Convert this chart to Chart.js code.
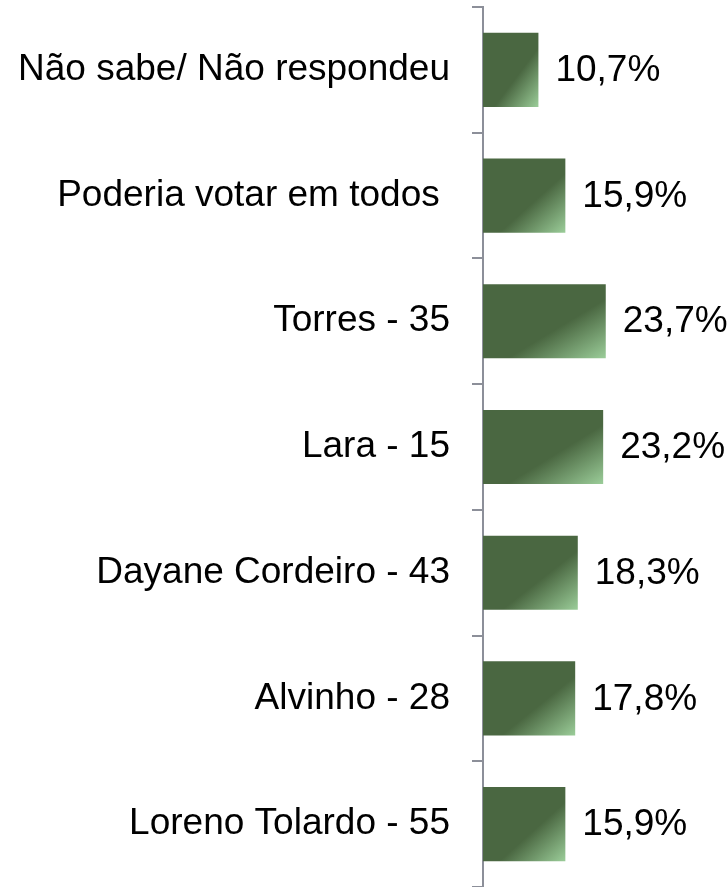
<!DOCTYPE html>
<html lang="pt">
<head>
<meta charset="utf-8">
<title>Intenção de voto</title>
<script src="https://cdn.jsdelivr.net/npm/chart.js@4/dist/chart.umd.min.js"></script>
<style>
    html, body { margin: 0; padding: 0; background: #ffffff; }
    #wrap { position: relative; width: 728px; height: 887px; }
</style>
</head>
<body>
<div id="wrap"><canvas id="voteChart"></canvas></div>
<script>
    const categories = [
        "Não sabe/ Não respondeu",
        "Poderia votar em todos ",
        "Torres - 35",
        "Lara - 15",
        "Dayane Cordeiro - 43",
        "Alvinho - 28",
        "Loreno Tolardo - 55"
    ];
    const percentages = [10.7, 15.9, 23.7, 23.2, 18.3, 17.8, 15.9];

    const axisColor = "#8c8f99";
    const darkGreen = "#4a6741";
    const lightGreen = "#9bcd99";
    const fontFamily = "'Liberation Sans', Arial, sans-serif";
    const barShare = 0.59;

    const formatPercent = (value) => value.toFixed(1).replace(".", ",") + "%";

    // diagonal gradient per bar: dark for most of it, light in the lower right corner
    const barGradient = (context) => {
        const chart = context.chart;
        const xs = chart.scales.x;
        const ys = chart.scales.y;
        if (!chart.chartArea || !xs || !ys) {
            return darkGreen;
        }
        const left = xs.getPixelForValue(0);
        const w = Math.max(1, xs.getPixelForValue(percentages[context.dataIndex]) - left);
        const h = (ys.height / categories.length) * barShare;
        const top = ys.getPixelForValue(context.dataIndex) - h / 2;
        const k = 2 * w * h / (w * w + h * h);
        const g = chart.ctx.createLinearGradient(left, top, left + k * h, top + k * w);
        g.addColorStop(0, darkGreen);
        g.addColorStop(0.6, darkGreen);
        g.addColorStop(1, lightGreen);
        return g;
    };

    const valueLabels = {
        id: "valueLabels",
        afterDatasetsDraw(chart) {
            const ctx = chart.ctx;
            ctx.save();
            ctx.font = "37px " + fontFamily;
            ctx.fillStyle = "#000000";
            ctx.textAlign = "left";
            ctx.textBaseline = "middle";
            chart.getDatasetMeta(0).data.forEach((bar, i) => {
                ctx.fillText(formatPercent(percentages[i]), bar.x + 17, bar.y + 1);
            });
            ctx.restore();
        }
    };

    new Chart(document.getElementById("voteChart"), {
        type: "bar",
        data: {
            labels: categories,
            datasets: [{
                data: percentages,
                backgroundColor: barGradient,
                borderWidth: 0,
                categoryPercentage: 1,
                barPercentage: barShare
            }]
        },
        options: {
            indexAxis: "y",
            responsive: true,
            maintainAspectRatio: false,
            animation: false,
            layout: { padding: { top: 7, right: 0, bottom: 0, left: 0 } },
            plugins: {
                legend: { display: false },
                tooltip: { enabled: false }
            },
            scales: {
                x: {
                    display: false,
                    min: 0,
                    max: 47.3
                },
                y: {
                    afterFit: (scale) => {
                        scale.width = 483;
                        scale.paddingTop = 0;
                        scale.paddingBottom = 0;
                    },
                    border: { display: true, color: axisColor, width: 2 },
                    grid: {
                        offset: true,
                        drawOnChartArea: false,
                        drawTicks: true,
                        tickLength: 11,
                        color: axisColor,
                        lineWidth: 2
                    },
                    ticks: {
                        autoSkip: false,
                        padding: 22,
                        color: "#000000",
                        font: { family: fontFamily, size: 37 }
                    }
                }
            }
        },
        plugins: [valueLabels]
    });
</script>
</body>
</html>
